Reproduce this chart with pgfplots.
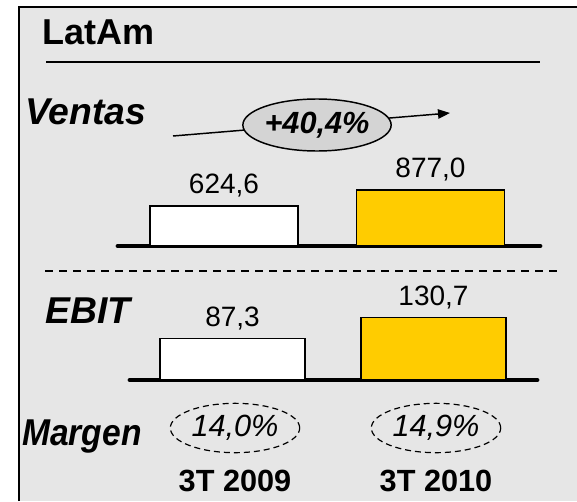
\documentclass[border=0pt]{standalone}
\usepackage{pgfplots}
\pgfplotsset{compat=1.18}
\usepackage{fontspec}
\setmainfont{Liberation Sans}
\usetikzlibrary{arrows.meta,shapes.geometric}

\definecolor{panelgray}{RGB}{230,230,230}
\definecolor{pillgray}{RGB}{212,212,212}
\definecolor{gold}{RGB}{255,204,0}

\newcommand{\bigbf}{\fontsize{27}{31}\selectfont\bfseries}
\newcommand{\valfont}{\fontsize{21}{25}\selectfont}

\pgfplotsset{
  barpanel/.style={
    scale only axis,
    clip=false,
    axis x line=bottom,
    axis y line=none,
    xtick=\empty, ytick=\empty,
    x axis line style={-, line width=3.6pt, line cap=round},
    ymin=0,
    nodes near coords,
    nodes near coords style={font=\valfont, anchor=south, inner sep=6pt},
    /pgf/number format/assume math mode=true,
    /pgf/number format/fixed,
    /pgf/number format/fixed zerofill,
    /pgf/number format/precision=1,
    /pgf/number format/use comma,
  },
  prevbar/.style={ybar, fill=white, draw=black, line width=1.1pt},
  currbar/.style={ybar, fill=gold, draw=black, line width=1.1pt},
}

\begin{document}
\begin{tikzpicture}[x=0.75pt, y=0.75pt]
\path[use as bounding box] (0,0) rectangle (577,501);
\fill[white] (0,0) rectangle (577,501);
\fill[panelgray] (19,0) rectangle (577,494);
\draw[line width=1.6pt] (19,0) -- (19,494) -- (577,494);

% title
\node[anchor=base west, inner sep=0pt, font=\bigbf] at (42,456) {LatAm};
\draw[line width=1.1pt] (46,439) -- (540,439);

% Ventas
\node[anchor=base west, inner sep=0pt, font=\fontsize{28}{32}\selectfont\bfseries\itshape] at (25,377) {Ventas};
\draw[line width=1.1pt, -{Triangle[length=9pt, width=7pt]}] (173,365) -- (450,388);
\node[ellipse, draw=black, line width=1.1pt, fill=pillgray, minimum width=101pt, minimum height=39pt, inner sep=0pt,
      font=\fontsize{23}{27}\selectfont\bfseries\itshape] at (317,376) {+40,4\%};

\begin{axis}[barpanel,
  at={(88.5pt,191.25pt)}, anchor=south west,
  width=316.5pt, height=60pt,
  xmin=-0.513, xmax=1.530, ymax=1253,
  bar width=0.715]
\addplot[prevbar] coordinates {(0,624.6)};
\addplot[currbar] coordinates {(1,877.0)};
\end{axis}

\draw[line width=1.1pt, dash pattern=on 6pt off 4.5pt] (45,230) -- (558,230);

% EBIT
\node[anchor=base west, inner sep=0pt, font=\fontsize{28}{32}\selectfont\bfseries\itshape] at (45,178) {EBIT};

\begin{axis}[barpanel,
  at={(97.5pt,90.75pt)}, anchor=south west,
  width=305.25pt, height=60pt,
  xmin=-0.51, xmax=1.515, ymax=168,
  bar width=0.721]
\addplot[prevbar] coordinates {(0,87.3)};
\addplot[currbar] coordinates {(1,130.7)};
\end{axis}

% Margen
\node[anchor=base west, inner sep=0pt, xscale=0.9, font=\fontsize{28}{32}\selectfont\bfseries\itshape] at (22,56) {Margen};
\foreach \cx/\txt in {235/{14,0\%}, 436/{14,9\%}} {
  \node[ellipse, draw=black, line width=0.9pt, dash pattern=on 4.5pt off 3pt,
        minimum width=97pt, minimum height=37pt, inner sep=0pt,
        font=\fontsize{23}{27}\selectfont\itshape] at (\cx,73) {\txt};
}

% periods
\node[anchor=base, inner sep=0pt, font=\fontsize{23}{27}\selectfont\bfseries] at (235,10) {3T 2009};
\node[anchor=base, inner sep=0pt, font=\fontsize{23}{27}\selectfont\bfseries] at (436,10) {3T 2010};
\end{tikzpicture}
\end{document}
